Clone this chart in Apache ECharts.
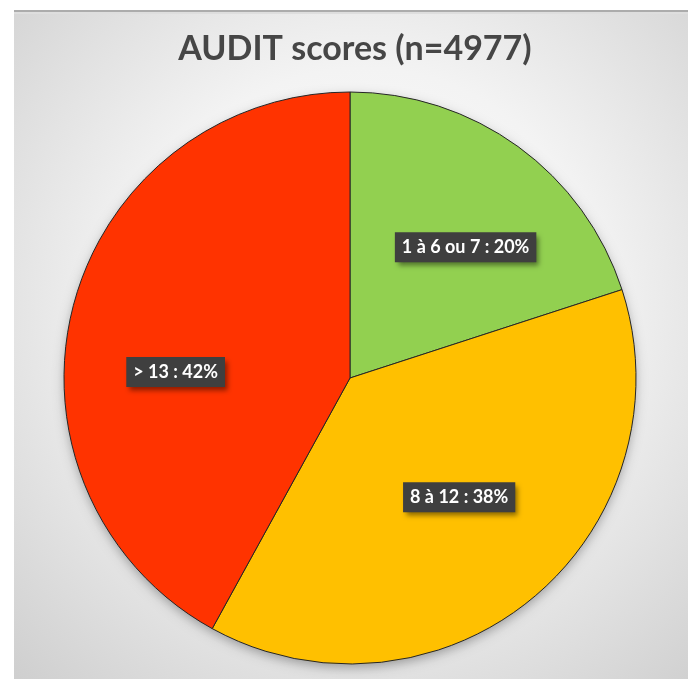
<!DOCTYPE html>
<html>
<head>
<meta charset="utf-8">
<script src="https://cdn.jsdelivr.net/npm/echarts@6/dist/echarts.min.js"></script>
<style>
  html, body { margin: 0; padding: 0; background: #ffffff; }
  #chart { width: 688px; height: 679px; }
</style>
</head>
<body>
<div id="chart"></div>
<script>
// AUDIT score groups and their shares (%)
const categories = ['1 à 6 ou 7', '8 à 12', '> 13'];
const shares = [20, 38, 42];
const sliceColors = ['#92d050', '#ffc000', '#ff3300'];
const titleText = 'AUDIT scores (n=4977)';

// label anchor: angle offset from slice middle (deg) and radius fraction
const labelAngleShift = [5.5, -2.9, -12.4];
const labelRadiusFrac = [0.61, 0.565, 0.61];

const CX = 350, CY = 378, R = 286;

const chart = echarts.init(document.getElementById('chart'), null, { renderer: 'canvas' });

// slice mid angles (clockwise from 12 o'clock)
const total = shares.reduce((a, b) => a + b, 0);
const midAngles = [];
let acc = 0;
shares.forEach(v => { midAngles.push((acc + v / 2) / total * 360); acc += v; });

chart.setOption({
  animation: false,
  graphic: [
    {
      type: 'rect',
      shape: { x: 14, y: 10, width: 700, height: 700 },
      style: {
        fill: new echarts.graphic.RadialGradient(0.5, 0.42, 0.75, [
          { offset: 0, color: '#ffffff' },
          { offset: 0.45, color: '#f3f3f3' },
          { offset: 1, color: '#cdcdcd' }
        ])
      },
      z: -10
    },
    {
      type: 'rect',
      shape: { x: 14, y: 10, width: 700, height: 2 },
      style: { fill: '#acacac' },
      z: -9
    },
    {
      type: 'rect',
      shape: { x: 14, y: 12, width: 700, height: 2 },
      style: { fill: '#dedede' },
      z: -9
    }
  ],
  title: {
    text: titleText,
    left: 350,
    top: 27,
    textAlign: 'center',
    textStyle: {
      fontFamily: 'Lato',
      fontWeight: 'bold',
      fontSize: 34,
      color: '#464646'
    }
  },
  series: [
    {
      // soft drop shadow beneath the pie
      type: 'pie',
      center: [CX, CY],
      radius: R - 1,
      silent: true,
      z: 1,
      data: [{ value: 1, itemStyle: { color: '#888888' } }],
      itemStyle: {
        shadowColor: 'rgba(0,0,0,0.35)',
        shadowBlur: 12,
        shadowOffsetY: 4
      },
      label: { show: false },
      labelLine: { show: false },
      emphasis: { disabled: true }
    },
    {
      type: 'pie',
      center: [CX, CY],
      radius: R,
      startAngle: 90,
      clockwise: true,
      z: 2,
      data: categories.map((c, i) => ({
        name: c,
        value: shares[i],
        itemStyle: { color: sliceColors[i] }
      })),
      itemStyle: {
        borderColor: '#262626',
        borderWidth: 1
      },
      emphasis: { disabled: true },
      label: {
        show: true,
        position: 'inside',
        formatter: p => p.name + ' : ' + p.value + '%',
        fontFamily: 'Lato',
        fontWeight: 'bold',
        fontSize: 18,
        lineHeight: 20,
        color: '#ffffff',
        backgroundColor: '#3f3f3f',
        padding: [5, 7, 5, 7],
        shadowColor: 'rgba(0,0,0,0.45)',
        shadowBlur: 5,
        shadowOffsetX: 3,
        shadowOffsetY: 4
      },
      labelLine: { show: false },
      labelLayout: function (params) {
        const i = params.dataIndex;
        const a = (midAngles[i] + labelAngleShift[i]) * Math.PI / 180;
        const r = R * labelRadiusFrac[i];
        return {
          x: CX + r * Math.sin(a),
          y: CY - r * Math.cos(a),
          align: 'center',
          verticalAlign: 'middle'
        };
      }
    }
  ]
});
</script>
</body>
</html>
